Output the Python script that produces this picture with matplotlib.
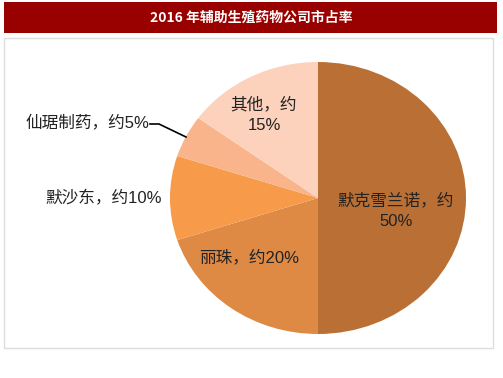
import matplotlib
matplotlib.use("Agg")
import matplotlib.pyplot as plt
from matplotlib.patches import Rectangle

plt.rcParams['font.family'] = ['Noto Sans CJK SC', 'DejaVu Sans']

title = "2016 年辅助生殖药物公司市占率"
companies = ["默克雪兰诺", "丽珠", "默沙东", "仙琚制药", "其他"]
shares = [50, 20, 10, 5, 15]
colors = ["#BA7035", "#DE8A45", "#F79B4A", "#F9B48C", "#FCD2BD"]

W, H = 503, 378
fig = plt.figure(figsize=(W / 100, H / 100), dpi=100)

def fx(x):
    return x / W

def fy(y):
    return 1 - y / H

# title bar
fig.patches.append(Rectangle((fx(4), fy(33)), fx(497) - fx(4), fy(2) - fy(33),
                             transform=fig.transFigure, facecolor="#990000",
                             edgecolor="none", zorder=0))
fig.text(fx(251), fy(17.5), title, color="white", fontsize=10, fontweight="bold",
         ha="center", va="center")
# chart border
fig.patches.append(Rectangle((fx(4), fy(348)), fx(493) - fx(4), fy(38) - fy(348),
                             transform=fig.transFigure, facecolor="none",
                             edgecolor="#DDDDDD", linewidth=1, zorder=0))

cx, cy, rx, ry = 318, 198, 148, 136
ax = fig.add_axes([fx(cx - rx), fy(cy + ry), 2 * rx / W, 2 * ry / H])
wedges, _ = ax.pie(shares, colors=colors, startangle=90, counterclock=False,
                   radius=1, wedgeprops=dict(linewidth=0))
ax.set_aspect('auto')
ax.set_xlim(-1, 1)
ax.set_ylim(-1, 1)
ax.axis('off')

def to_ax(px, py):
    return ((px - cx) / rx, -(py - cy) / ry)

tc = "#222222"
fs = 12
fam = ['Liberation Sans', 'Noto Sans CJK SC']
labels = [
    (f"{companies[0]}，约\n{shares[0]}%", 396, 211),
    (f"{companies[1]}，约{shares[1]}%", 249, 257),
    (f"{companies[2]}，约{shares[2]}%", 104, 198),
    (f"{companies[4]}，约\n{shares[4]}%", 264, 115),
]
for txt, px, py in labels:
    x, y = to_ax(px, py)
    ax.text(x, y, txt, ha="center", va="center", fontsize=fs, color=tc,
            linespacing=1.45, family=fam)

# leader label for 仙琚制药
x, y = to_ax(149, 122)
ax.text(x, y, f"{companies[3]}，约{shares[3]}%", ha="right", va="center",
        fontsize=fs, color=tc, family=fam)
p = [to_ax(150, 124), to_ax(159, 124), to_ax(186, 137)]
ax.plot([q[0] for q in p], [q[1] for q in p], color="black", lw=1.2,
        clip_on=False)

fig.savefig("out.png", dpi=100)
